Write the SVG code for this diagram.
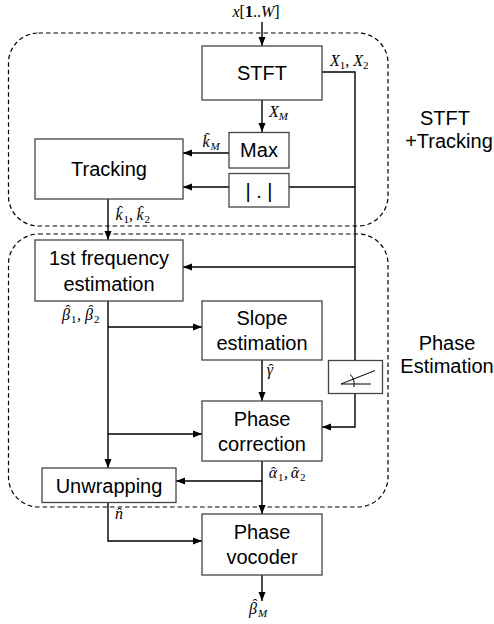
<svg xmlns="http://www.w3.org/2000/svg" width="494" height="624" viewBox="0 0 494 624">
<defs>
<marker id="ah" markerWidth="9" markerHeight="8" refX="9" refY="4" orient="auto" markerUnits="userSpaceOnUse">
<path d="M0,0.5 L9,4 L0,7.5 z" fill="#000"/>
</marker>
<style>
.box{fill:#fff;stroke:#444;stroke-width:1.3}
.t{font-family:"Liberation Sans",Arial,sans-serif;font-size:20px;fill:#000;text-anchor:middle}
.m{font-family:"Liberation Serif","Times New Roman",serif;font-style:italic;font-size:16px;fill:#000}
.mc{font-family:"Liberation Serif","Times New Roman",serif;font-style:italic;font-size:16px;fill:#000;text-anchor:middle}
.h{font-family:"Liberation Serif","Times New Roman",serif;font-size:15px;fill:#000;text-anchor:middle}
.s{font-family:"Liberation Serif","Times New Roman",serif;font-size:11px;fill:#000}
.si{font-family:"Liberation Serif","Times New Roman",serif;font-style:italic;font-size:11px;fill:#000}
.up{font-style:normal}
.sub{font-size:11px}
.c{fill:none;stroke:#000;stroke-width:1.4}
.a{fill:none;stroke:#000;stroke-width:1.4;marker-end:url(#ah)}
.d{fill:none;stroke:#000;stroke-width:1.2;stroke-dasharray:4.5 3}
</style>
</defs>
<rect width="494" height="624" fill="#fff"/>
<g id="groups">
<rect class="d" x="8.5" y="33" width="379.5" height="193" rx="30" ry="30"/>
<rect class="d" x="8.5" y="234" width="379.5" height="273" rx="30" ry="30"/>
<text class="t" x="445" y="125">STFT</text>
<text class="t" x="449" y="148">+Tracking</text>
<text class="t" x="447" y="350">Phase</text>
<text class="t" x="447" y="373">Estimation</text>
</g>
<g id="connectors">
<path class="a" d="M262,22 V46"/>
<path class="a" d="M262,100 V132"/>
<path class="c" d="M322,72 H355 V361"/>
<path class="a" d="M229,153 H183"/>
<path class="c" d="M355,187 H289"/>
<path class="a" d="M229,187 H183"/>
<path class="a" d="M108,199 V240"/>
<path class="a" d="M355,267 H183"/>
<path class="a" d="M108,301 V468"/>
<path class="a" d="M108,327 H202"/>
<path class="a" d="M262,360 V401"/>
<path class="a" d="M355,394 V427 H322"/>
<path class="a" d="M108,434 H202"/>
<path class="a" d="M262,461 V514"/>
<path class="a" d="M262,481 H176"/>
<path class="a" d="M108,502 V541 H202"/>
<path class="a" d="M262,575 V601"/>
</g>
<g id="stft">
<rect class="box" x="202" y="46" width="120" height="54"/>
<text class="t" x="262" y="80">STFT</text>
</g>
<g id="max">
<rect class="box" x="229" y="132.5" width="60" height="35.5"/>
<text class="t" x="259" y="157">Max</text>
</g>
<g id="abs">
<rect class="box" x="229" y="173.5" width="60" height="33.5"/>
<text class="t" x="259" y="198">| . |</text>
</g>
<g id="tracking">
<rect class="box" x="35" y="139" width="148" height="60"/>
<text class="t" x="109" y="176">Tracking</text>
</g>
<g id="freq">
<rect class="box" x="35" y="240" width="148" height="61"/>
<text class="t" x="109" y="265">1st frequency</text>
<text class="t" x="109" y="290.5">estimation</text>
</g>
<g id="slope">
<rect class="box" x="202" y="301" width="120" height="59"/>
<text class="t" x="262" y="325">Slope</text>
<text class="t" x="262" y="350">estimation</text>
</g>
<g id="angle">
<rect class="box" x="328.5" y="360.5" width="54" height="33"/>
<path d="M341,384 H371 M341,384 L375,370.5 M350,374.5 Q355,378 354,387" fill="none" stroke="#000" stroke-width="1"/>
</g>
<g id="phasecorr">
<rect class="box" x="202" y="401" width="120" height="60"/>
<text class="t" x="262" y="426">Phase</text>
<text class="t" x="262" y="450.5">correction</text>
</g>
<g id="unwrap">
<rect class="box" x="42" y="468" width="134" height="34.5"/>
<text class="t" x="109" y="492.5">Unwrapping</text>
</g>
<g id="vocoder">
<rect class="box" x="202" y="514" width="120" height="61"/>
<text class="t" x="262" y="539">Phase</text>
<text class="t" x="262" y="564">vocoder</text>
</g>
<g id="labels">
<text class="m" x="256" y="17" text-anchor="middle">x<tspan class="up">[</tspan><tspan class="up" font-weight="bold">1</tspan><tspan class="up">..</tspan>W<tspan class="up">]</tspan></text>
<text class="m" x="330" y="66">X<tspan class="sub up" dy="3">1</tspan><tspan class="up" dy="-3">, </tspan>X<tspan class="sub up" dy="3">2</tspan></text>
<text class="m" x="269" y="117">X<tspan class="sub" dy="3">M</tspan></text>
<!-- k_M -->
<text class="mc" x="206" y="147">k</text><text class="h" x="207.5" y="143">ˆ</text><text class="si" x="210.5" y="150">M</text>
<!-- k1,k2 -->
<text class="mc" x="119" y="220">k</text><text class="h" x="120.5" y="216">ˆ</text><text class="s" x="123.5" y="223">1</text>
<text class="m" x="129" y="220">,</text>
<text class="mc" x="140" y="220">k</text><text class="h" x="141.5" y="216">ˆ</text><text class="s" x="144.5" y="223">2</text>
<!-- beta1,beta2 -->
<text class="mc" x="66" y="320">β</text><text class="h" x="68" y="315">ˆ</text><text class="s" x="71" y="323">1</text>
<text class="m" x="77" y="320">,</text>
<text class="mc" x="89" y="320">β</text><text class="h" x="91" y="315">ˆ</text><text class="s" x="94" y="323">2</text>
<!-- gamma -->
<text class="mc" x="270" y="375">γ</text><text class="h" x="271" y="374">ˆ</text>
<!-- alpha1, alpha2 -->
<text class="mc" x="273" y="478">α</text><text class="h" x="273.5" y="477">ˆ</text><text class="s" x="278" y="481">1</text>
<text class="m" x="284" y="478">,</text>
<text class="mc" x="295" y="478">α</text><text class="h" x="295.5" y="477">ˆ</text><text class="s" x="300" y="481">2</text>
<!-- n -->
<text class="mc" x="119" y="519">n</text><text class="h" x="119.5" y="518">ˆ</text>
<!-- beta_M -->
<text class="mc" x="253" y="614">β</text><text class="h" x="255" y="609">ˆ</text><text class="si" x="258" y="617">M</text>
</g>
</svg>
